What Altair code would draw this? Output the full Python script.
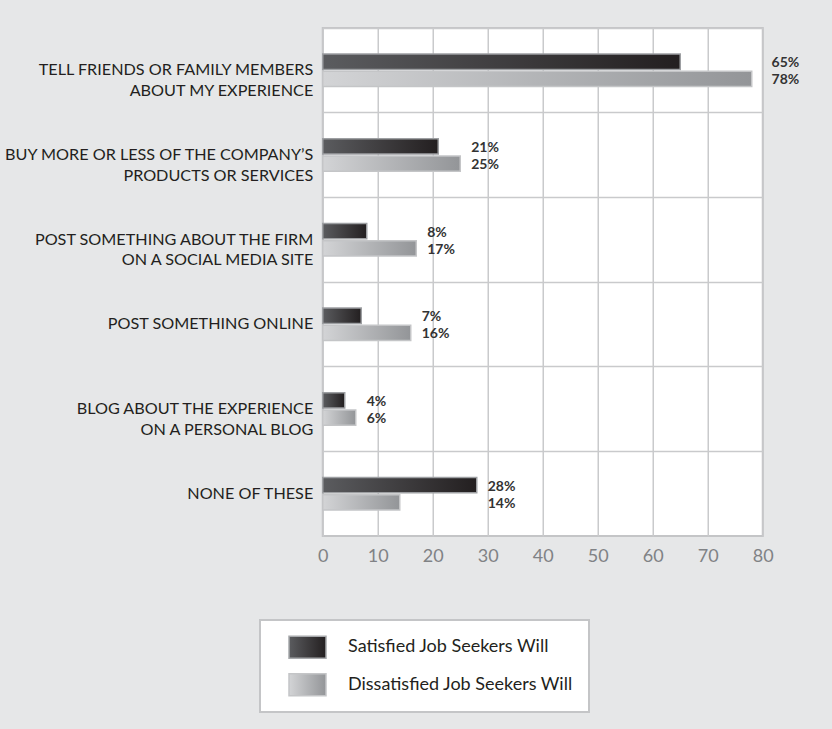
import altair as alt
import pandas as pd

categories = [
    "TELL FRIENDS OR FAMILY MEMBERS|ABOUT MY EXPERIENCE",
    "BUY MORE OR LESS OF THE COMPANY\u2019S|PRODUCTS OR SERVICES",
    "POST SOMETHING ABOUT THE FIRM|ON A SOCIAL MEDIA SITE",
    "POST SOMETHING ONLINE",
    "BLOG ABOUT THE EXPERIENCE|ON A PERSONAL BLOG",
    "NONE OF THESE",
]
series = ["Satisfied Job Seekers Will", "Dissatisfied Job Seekers Will"]
satisfied = [65, 21, 8, 7, 4, 28]
dissatisfied = [78, 25, 17, 16, 6, 14]
x_ticks = [0, 10, 20, 30, 40, 50, 60, 70, 80]

rows = []
for c, s, d in zip(categories, satisfied, dissatisfied):
    rows.append({"category": c, "series": series[0], "value": s})
    rows.append({"category": c, "series": series[1], "value": d})
df = pd.DataFrame(rows)
legend_df = pd.DataFrame({"series": series})

FONT = "Lato"
TEXT = "#231f20"
GRID = "#c9cacc"

dark_fill = alt.Gradient(
    gradient="linear",
    stops=[alt.GradientStop(color="#5b5c5f", offset=0),
           alt.GradientStop(color="#231f20", offset=1)],
    x1=0, x2=1, y1=0, y2=0,
)
light_fill = alt.Gradient(
    gradient="linear",
    stops=[alt.GradientStop(color="#d3d4d6", offset=0),
           alt.GradientStop(color="#939598", offset=1)],
    x1=0, x2=1, y1=0, y2=0,
)

x_axis = alt.Axis(
    title=None, values=x_ticks, grid=True, gridColor=GRID, gridWidth=1.5,
    ticks=False, domain=False, labelFont=FONT, labelFontSize=18,
    labelColor="#808285", labelPadding=11, labelFlush=False,
    minExtent=35, maxExtent=35,
)
y_axis = alt.Axis(
    title=None, labelExpr="split(datum.label, '|')", grid=True,
    gridColor=GRID, gridWidth=1.5, bandPosition=0, ticks=False,
    domain=False, labelFont=FONT, labelFontSize=16.2, labelColor=TEXT,
    labelPadding=10, labelLineHeight=20.5, labelLimit=400,
    minExtent=300, maxExtent=300,
)

x_scale = alt.Scale(domain=[0, 80], nice=False)
y_enc = alt.Y("category:N", sort=categories, axis=y_axis,
              scale=alt.Scale(paddingInner=0, paddingOuter=0))
yoff_enc = alt.YOffset("series:N", sort=series,
                       scale=alt.Scale(range=[26.1, 58.6], paddingInner=0.11,
                                       paddingOuter=0))

base = alt.Chart(df).encode(y=y_enc, yOffset=yoff_enc)

dark_bars = base.transform_filter(alt.datum.series == series[0]).mark_bar(
    fill=dark_fill, stroke="#9d9fa2", strokeWidth=1.5
).encode(x=alt.X("value:Q", scale=x_scale, axis=x_axis))

light_bars = base.transform_filter(alt.datum.series == series[1]).mark_bar(
    fill=light_fill, stroke="#c4c5c7", strokeWidth=1.5
).encode(x=alt.X("value:Q", scale=x_scale, axis=x_axis))

labels = base.transform_joinaggregate(
    mx="max(value)", groupby=["category"]
).transform_calculate(
    lx="datum.mx + 2 >= 79 ? 81.6 : datum.mx + 2",
    label="datum.value + '%'",
).mark_text(
    align="left", baseline="middle", dy=1.5, font=FONT, fontSize=14,
    fontWeight="bold", color="#333333",
).encode(x=alt.X("lx:Q", scale=x_scale, axis=x_axis), text="label:N")

main = alt.layer(dark_bars, light_bars, labels).properties(width=440, height=508)


def make_legend(extent):
    leg_y = alt.Y("series:N", sort=series,
                  scale=alt.Scale(paddingInner=0.413, paddingOuter=0.433),
                  axis=alt.Axis(title=None, orient="right", labelExpr="''",
                                ticks=False, domain=False, grid=False,
                                minExtent=extent, maxExtent=extent))
    leg_base = alt.Chart(legend_df).encode(y=leg_y)
    leg_dark = leg_base.transform_filter(alt.datum.series == series[0]).mark_rect(
        fill=dark_fill, stroke="#a7a9ac", strokeWidth=1.5
    ).encode(x=alt.value(29), x2=alt.value(66))
    leg_light = leg_base.transform_filter(alt.datum.series == series[1]).mark_rect(
        fill=light_fill, stroke="#c4c5c7", strokeWidth=1.5
    ).encode(x=alt.value(29), x2=alt.value(66))
    leg_text = leg_base.mark_text(
        align="left", baseline="middle", font=FONT, fontSize=18, color=TEXT
    ).encode(x=alt.value(88), text="series:N")
    return alt.layer(leg_dark, leg_light, leg_text).properties(width=329, height=92)


def build(extent, right_pad):
    return alt.vconcat(main, make_legend(extent), spacing=47, center=True).properties(
        background="#e6e7e8",
        padding={"left": 2, "top": 27, "right": right_pad, "bottom": 17},
    ).configure_view(
        fill="white", stroke="#c4c5c7", strokeWidth=2
    )


chart = build(273, -31)
try:
    chart.to_dict()
except Exception:
    chart = build(211, 0)

chart.save("out.html", embed_options={"renderer": "svg", "actions": False})
